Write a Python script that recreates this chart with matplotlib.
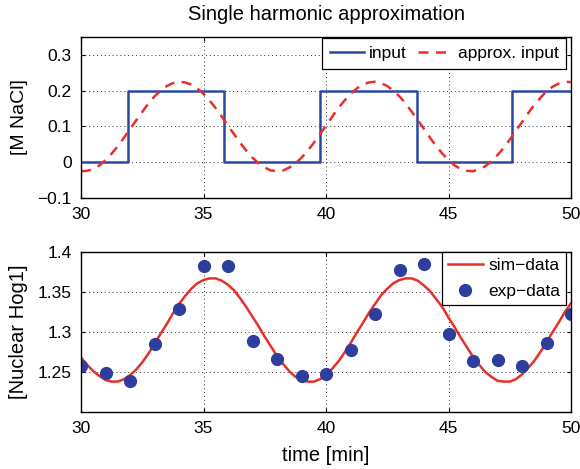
import matplotlib
matplotlib.use("Agg")
import matplotlib.pyplot as plt

plt.rcParams['font.family'] = ['Liberation Sans', 'DejaVu Sans']

# ---- data ----
input_t = [30, 31.9, 31.9, 35.85, 35.85, 39.75, 39.75, 43.7, 43.7, 47.6, 47.6, 50]
input_v = [0, 0, 0.2, 0.2, 0, 0, 0.2, 0.2, 0, 0, 0.2, 0.2]

approx_t = [30 + 0.25 * i for i in range(81)]
approx_v = [-0.025, -0.024, -0.019, -0.009, 0.006, 0.024, 0.045, 0.068, 0.093, 0.117,
            0.141, 0.164, 0.184, 0.200, 0.213, 0.221, 0.225, 0.223, 0.217, 0.206,
            0.191, 0.172, 0.151, 0.127, 0.102, 0.078, 0.054, 0.032, 0.0125, -0.003,
            -0.015, -0.023, -0.025, -0.023, -0.015, -0.003, 0.0125, 0.032, 0.054, 0.078,
            0.102, 0.127, 0.151, 0.172, 0.191, 0.206, 0.217, 0.223, 0.225, 0.221,
            0.213, 0.200, 0.184, 0.164, 0.141, 0.117, 0.093, 0.068, 0.045, 0.024,
            0.006, -0.009, -0.019, -0.024, -0.025, -0.020, -0.011, 0.0025, 0.020, 0.040,
            0.063, 0.088, 0.112, 0.137, 0.160, 0.180, 0.198, 0.211, 0.220, 0.225,
            0.224]

sim_t = [30 + 0.25 * i for i in range(81)]
sim_v = [1.268, 1.259, 1.251, 1.245, 1.240, 1.238, 1.238, 1.241, 1.246, 1.253,
         1.262, 1.273, 1.285, 1.298, 1.310, 1.323, 1.335, 1.345, 1.354, 1.361,
         1.365, 1.367, 1.367, 1.364, 1.359, 1.352, 1.342, 1.331, 1.319, 1.307,
         1.294, 1.282, 1.270, 1.260, 1.251, 1.244, 1.240, 1.238, 1.238, 1.241,
         1.246, 1.254, 1.263, 1.274, 1.286, 1.299, 1.311, 1.324, 1.335, 1.346,
         1.354, 1.361, 1.365, 1.367, 1.367, 1.364, 1.358, 1.351, 1.341, 1.331,
         1.318, 1.306, 1.293, 1.281, 1.269, 1.259, 1.250, 1.244, 1.239, 1.238,
         1.238, 1.241, 1.247, 1.255, 1.264, 1.275, 1.287, 1.300, 1.312, 1.325,
         1.336]

exp_t = list(range(30, 51))
exp_v = [1.258, 1.249, 1.239, 1.285, 1.329, 1.382, 1.382, 1.289, 1.266, 1.245,
         1.2475, 1.277, 1.3225, 1.377, 1.3845, 1.298, 1.264, 1.265, 1.258, 1.286,
         1.323]

xticks = [30, 35, 40, 45, 50]
top_yticks = [-0.1, 0, 0.1, 0.2, 0.3]
top_yticklabels = ['\u22120.1', '0', '0.1', '0.2', '0.3']
bot_yticks = [1.25, 1.3, 1.35, 1.4]
bot_yticklabels = ['1.25', '1.3', '1.35', '1.4']

BLUE = '#2b48a3'
RED = '#e8302a'
DOT = '#2e3e9c'

fig = plt.figure(figsize=(5.8, 4.69), dpi=100)
ax1 = fig.add_axes([0.1397, 0.5778, 0.8448, 0.3433])
ax2 = fig.add_axes([0.1397, 0.1215, 0.8448, 0.3412])

def style(ax):
    ax.tick_params(direction='in', top=True, right=True, labelsize=12.5,
                   length=3, width=0.8, pad=6.5)
    ax.grid(True, linestyle=(0, (1, 3)), color='#333333', linewidth=0.7)
    for s in ax.spines.values():
        s.set_linewidth(1.0)
        s.set_color('black')
    ax.set_axisbelow(True)

ax1.plot(input_t, input_v, color=BLUE, lw=1.8, label='input')
ax1.plot(approx_t, approx_v, color=RED, lw=1.8, dashes=(4, 3), label='approx. input')
ax1.set_xlim(30, 50)
ax1.set_ylim(-0.1, 0.35)
ax1.set_xticks(xticks)
ax1.set_yticks(top_yticks)
ax1.set_yticklabels(top_yticklabels)
ax1.set_ylabel('[M NaCl]', fontsize=14, labelpad=7)
ax1.set_title('Single harmonic approximation', fontsize=14.5, pad=12)
style(ax1)
leg1 = ax1.legend(loc='upper right', bbox_to_anchor=(0.99, 0.995), ncol=2,
                  fontsize=12.5, fancybox=False, edgecolor='black', framealpha=1,
                  borderaxespad=0, handlelength=2.0, columnspacing=0.7,
                  handletextpad=0.25, borderpad=0.45)
leg1.get_frame().set_linewidth(0.9)

ax2.plot(sim_t, sim_v, color=RED, lw=1.8, label='sim\u2212data')
ax2.plot(exp_t, exp_v, 'o', color=DOT, markersize=8.5, label='exp\u2212data')
ax2.set_xlim(30, 50)
ax2.set_ylim(1.2, 1.4)
ax2.set_xticks(xticks)
ax2.set_yticks(bot_yticks)
ax2.set_yticklabels(bot_yticklabels)
ax2.set_ylabel('[Nuclear Hog1]', fontsize=14.5, labelpad=7)
ax2.set_xlabel('time [min]', fontsize=14.5, labelpad=7)
style(ax2)
leg2 = ax2.legend(loc='upper right', bbox_to_anchor=(0.99, 1.0),
                  fontsize=12.5, fancybox=False, edgecolor='black', framealpha=1,
                  borderaxespad=0, handlelength=2.0, handletextpad=0.3,
                  borderpad=0.35, labelspacing=0.6)
leg2.get_frame().set_linewidth(0.9)

fig.savefig('out.png', dpi=100)
